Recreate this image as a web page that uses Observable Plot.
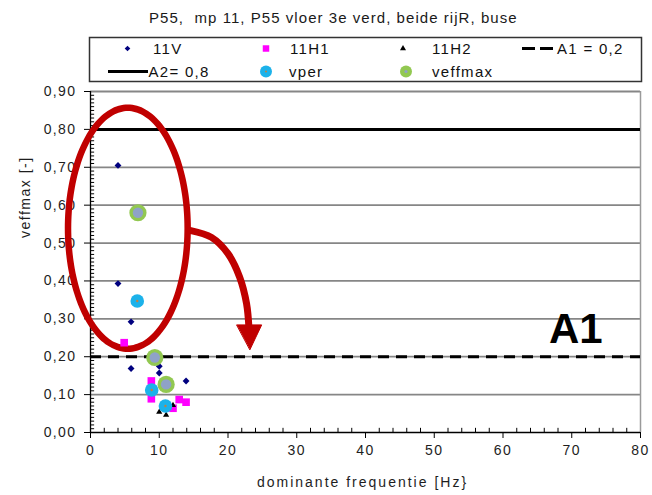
<!DOCTYPE html>
<html>
<head>
<meta charset="utf-8">
<script src="https://cdn.jsdelivr.net/npm/d3@7"></script>
<script src="https://cdn.jsdelivr.net/npm/@observablehq/plot@0.6"></script>
<style>
  body { margin: 0; background: #fff; }
  #wrap { position: relative; width: 652px; height: 495px; font-family: "Liberation Sans", Arial, sans-serif; }
  #chart { position: absolute; left: 0; top: 0; }
  #title { position: absolute; left: 149px; top: 9px; font-size: 15px; letter-spacing: 1.05px; white-space: pre; color: #1a1a1a; }
  #legend { position: absolute; left: 0; top: 0; }
</style>
</head>
<body>
<div id="wrap">
  <div id="chart"></div>
  <div id="title"></div>
  <svg id="legend" width="652" height="90"></svg>
</div>
<script>
// ---------- texts ----------
const titleText = "P55,  mp 11, P55 vloer 3e verd, beide rijR, buse";
const xLabel = "dominante frequentie [Hz}";
const yLabel = "veffmax [-]";
const seriesNames = ["11V", "11H1", "11H2", "A1 = 0,2", "A2= 0,8", "vper", "veffmax"];
const annotationText = "A1";

// ---------- ticks ----------
const xTicks = [0, 10, 20, 30, 40, 50, 60, 70, 80];
const yTicks = [0, 0.1, 0.2, 0.3, 0.4, 0.5, 0.6, 0.7, 0.8, 0.9];
const xMinorTicks = [2, 4, 6, 8, 12, 14, 16, 18, 22, 24, 26, 28, 32, 34, 36, 38, 42, 44, 46, 48, 52, 54, 56, 58, 62, 64, 66, 68, 72, 74, 76, 78];
const yMinorTicks = d3.range(1, 90).filter(i => i % 10 !== 0).map(i => i / 100);
const gridValues = [0.1, 0.2, 0.3, 0.4, 0.5, 0.6, 0.7, 0.8, 0.9];

// ---------- series ----------
const v11V_x = [4.0, 4.0, 5.9, 5.9, 10.0, 10.0, 13.9];
const v11V_y = [0.705, 0.393, 0.292, 0.169, 0.175, 0.157, 0.136];
const v11H1_x = [4.9, 8.85, 8.85, 12.9, 13.9, 12.0];
const v11H1_y = [0.237, 0.136, 0.089, 0.087, 0.080, 0.064];
const v11H2_x = [10.0, 11.0, 12.0];
const v11H2_y = [0.054, 0.046, 0.072];
const vper_x = [6.8, 8.9, 10.9];
const vper_y = [0.347, 0.112, 0.070];
const veffmax_x = [6.9, 9.35, 11.0];
const veffmax_y = [0.580, 0.198, 0.127];
const A1 = 0.2;
const A2 = 0.8;

// ---------- annotation shapes (data coordinates) ----------
const ellipse = {cx: 5.43, cy: 0.539, rx: 8.7, ry: 0.318};
const arrowX = [14.6, 17.6, 20.0, 21.7, 22.7, 23.05];
const arrowY = [0.533, 0.515, 0.472, 0.410, 0.340, 0.275];
const headX = [21.3, 24.9, 23.2];
const headY = [0.284, 0.284, 0.219];
const a1Pos = {x: 74.5, y: 0.272};

const zip = (xs, ys) => xs.map((x, i) => ({x, y: ys[i]}));
const d11V = zip(v11V_x, v11V_y);
const d11H1 = zip(v11H1_x, v11H1_y);
const d11H2 = zip(v11H2_x, v11H2_y);
const dVper = zip(vper_x, vper_y);
const dVeff = zip(veffmax_x, veffmax_y);
const ellipsePts = d3.range(0, 360, 4).map(a => {
  const t = a * Math.PI / 180;
  return {x: ellipse.cx + ellipse.rx * Math.cos(t), y: ellipse.cy + ellipse.ry * Math.sin(t)};
});
const arrowPts = zip(arrowX, arrowY);
const headPts = zip(headX, headY);

const RED = "#c00000";
const fmt = d => d.toFixed(2).replace(".", ",");

const plot = Plot.plot({
  width: 652,
  height: 495,
  marginLeft: 90,
  marginRight: 12,
  marginTop: 91,
  marginBottom: 63,
  x: {domain: [0, 80]},
  y: {domain: [0, 0.9]},
  style: {fontFamily: "'Liberation Sans', Arial, sans-serif", fontSize: "14px", color: "#1e1e1e", background: "transparent", overflow: "visible", letterSpacing: "1.4px"},
  marks: [
    Plot.ruleY(gridValues, {stroke: "#868686", strokeWidth: 1.8}),
    Plot.ruleX([80], {stroke: "#9a9a9a", strokeWidth: 1.5}),
    Plot.ruleY([A2], {stroke: "#000", strokeWidth: 3}),
    Plot.ruleY([A1], {stroke: "#000", strokeWidth: 3, strokeDasharray: "11,7"}),
    Plot.ruleX(xMinorTicks, {y1: 0, y2: 0.011, stroke: "#000", strokeWidth: 1}),
    Plot.ruleY(yMinorTicks, {x1: 0, x2: 0.6, stroke: "#000", strokeWidth: 1}),
    Plot.ruleX([0], {stroke: "#000", strokeWidth: 1.3}),
    Plot.ruleY([0], {stroke: "#000", strokeWidth: 1.3}),
    Plot.axisY({ticks: yTicks, tickFormat: fmt, tickSize: 6, tickPadding: 8, label: null, stroke: "#000"}),
    Plot.axisX({ticks: xTicks, tickSize: 6, tickPadding: 7, label: null, stroke: "#000"}),
    Plot.text([yLabel], {frameAnchor: "left", rotate: -90, dx: -65, dy: -24, text: d => d, fontSize: 14}),
    Plot.text([xLabel], {frameAnchor: "bottom", dx: -3, dy: 54, text: d => d, fontSize: 14}),
    Plot.line(ellipsePts, {x: "x", y: "y", curve: "catmull-rom-closed", stroke: RED, strokeWidth: 6.5}),
    Plot.line(arrowPts, {x: "x", y: "y", curve: "catmull-rom", stroke: RED, strokeWidth: 7}),
    Plot.line(headPts, {x: "x", y: "y", curve: "linear-closed", fill: RED, stroke: RED, strokeWidth: 1}),
    Plot.dot(d11V, {x: "x", y: "y", symbol: "diamond2", r: 3.1, fill: "#00007f", stroke: "none"}),
    Plot.dot(d11H1, {x: "x", y: "y", symbol: "square", r: 4.3, fill: "#ff00ff", stroke: "none"}),
    Plot.dot(d11H2, {x: "x", y: "y", symbol: "triangle", r: 2.3, fill: "#000", stroke: "none"}),
    Plot.dot(dVper, {x: "x", y: "y", r: 6.8, fill: "#1cb2ea", stroke: "none"}),
    Plot.dot(dVper, {x: "x", y: "y", r: 1.2, fill: "#c08040", stroke: "none"}),
    Plot.dot(dVeff, {x: "x", y: "y", r: 8.6, fill: "#92c851", stroke: "none"}),
    Plot.dot(dVeff, {x: "x", y: "y", r: 5.2, fill: "#8fa2c8", stroke: "none"}),
    Plot.text([annotationText], {x: () => a1Pos.x, y: () => a1Pos.y, text: d => d, textAnchor: "end", fontSize: 42, fontWeight: "bold", fill: "#000"})
  ]
});
document.getElementById("chart").appendChild(plot);
d3.select(plot).selectAll("text").filter(function() { return this.textContent === annotationText; }).style("letter-spacing", "0px");
d3.select(plot).selectAll("text").filter(function() { return this.textContent === xLabel; }).style("letter-spacing", "2px");
d3.select(plot).selectAll("text").filter(function() { return this.textContent === yLabel; }).style("letter-spacing", "1.5px");

document.getElementById("title").textContent = titleText;

// ---------- legend ----------
const lg = d3.select("#legend");
lg.append("rect").attr("x", 89.5).attr("y", 37.5).attr("width", 552).attr("height", 44)
  .attr("fill", "#fff").attr("stroke", "#333").attr("stroke-width", 1.5);
const row1 = 48.5, row2 = 71.5;
const sym = (type, size) => d3.symbol().type(type).size(size)();
const items = [
  {name: seriesNames[0], tx: 153, y: row1, draw: g => g.append("path").attr("d", sym(d3.symbolDiamond2, 20)).attr("transform", `translate(127.5,${row1})`).attr("fill", "#00007f")},
  {name: seriesNames[1], tx: 290, y: row1, draw: g => g.append("path").attr("d", sym(d3.symbolSquare, 42)).attr("transform", `translate(266,${row1})`).attr("fill", "#ff00ff")},
  {name: seriesNames[2], tx: 432, y: row1, draw: g => g.append("path").attr("d", sym(d3.symbolTriangle, 16)).attr("transform", `translate(403,${row1})`).attr("fill", "#000")},
  {name: seriesNames[3], tx: 557, y: row1, draw: g => {
    g.append("line").attr("x1", 522).attr("x2", 535).attr("y1", row1).attr("y2", row1).attr("stroke", "#000").attr("stroke-width", 3);
    g.append("line").attr("x1", 540).attr("x2", 553).attr("y1", row1).attr("y2", row1).attr("stroke", "#000").attr("stroke-width", 3);
  }},
  {name: seriesNames[4], tx: 148.5, y: row2, draw: g => g.append("line").attr("x1", 108).attr("x2", 148).attr("y1", row2).attr("y2", row2).attr("stroke", "#000").attr("stroke-width", 3)},
  {name: seriesNames[5], tx: 289, y: row2, draw: g => {
    g.append("circle").attr("cx", 266).attr("cy", row2).attr("r", 6).attr("fill", "#1cb2ea");
    g.append("circle").attr("cx", 266).attr("cy", row2).attr("r", 1).attr("fill", "#c08040");
  }},
  {name: seriesNames[6], tx: 432, y: row2, draw: g => {
    g.append("circle").attr("cx", 406).attr("cy", row2).attr("r", 6).attr("fill", "#92c851");
    g.append("circle").attr("cx", 406).attr("cy", row2).attr("r", 1.6).attr("fill", "#8fa2c8");
  }}
];
items.forEach(it => {
  const g = lg.append("g");
  it.draw(g);
  g.append("text").attr("x", it.tx).attr("y", it.y + 5.4).text(it.name)
    .attr("font-size", 15).attr("fill", "#111")
    .attr("font-family", "'Liberation Sans', Arial, sans-serif")
    .style("letter-spacing", "1.3px");
});
</script>
</body>
</html>
